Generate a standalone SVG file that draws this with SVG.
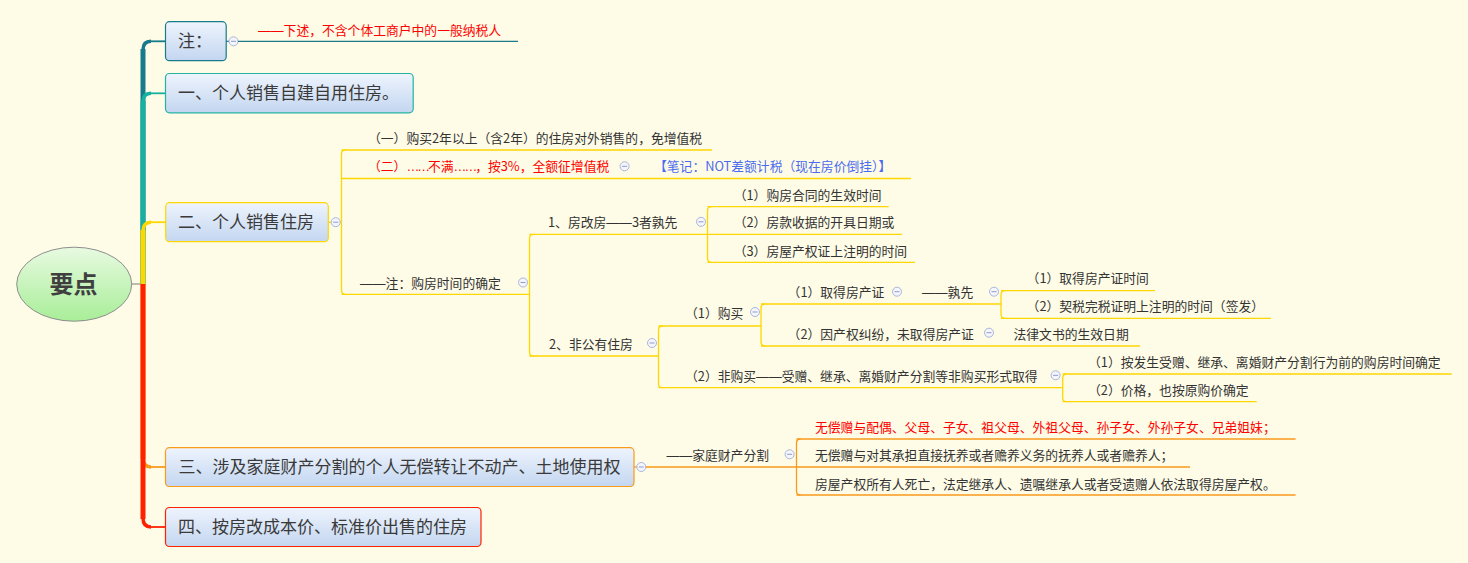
<svg xmlns="http://www.w3.org/2000/svg" width="1468" height="563" viewBox="0 0 1468 563">
<defs>
<linearGradient id="gb" x1="0" y1="0" x2="0" y2="1"><stop offset="0" stop-color="#EEF4FD"/><stop offset="1" stop-color="#C3D6F0"/></linearGradient>
<linearGradient id="gg" x1="0" y1="0" x2="0" y2="1"><stop offset="0" stop-color="#E8FAE1"/><stop offset="1" stop-color="#A8EE98"/></linearGradient>
<g id="col"><circle r="4.5" fill="#F4F6FC" stroke="#AAB5DA" stroke-width="1"/><line x1="-2.5" y1="0" x2="2.5" y2="0" stroke="#8F9BCB" stroke-width="1"/></g>
<style>
text{font-family:"Noto Sans CJK SC","Noto Sans",sans-serif;fill:#333333}
.t13{font-size:12.8px}
.t17{font-size:17px;fill:#3A3A3A}
.red{fill:#FF0000}
.blue{fill:#4B6BF0}
.d{font-family:"Liberation Sans",sans-serif}
.el{font-family:"Liberation Sans",sans-serif;letter-spacing:-2px}
.box{fill:url(#gb);stroke-width:1.2}
.yl{stroke:#FFD700;stroke-width:1.3;fill:none}
.or{stroke:#F99A1C;stroke-width:1.3;fill:none}
.dt{stroke:#1B7B8B;stroke-width:1.2;fill:none}
.trunk{fill:none;stroke-width:5}
.crv{fill:none;stroke-width:3.5}
.stub{fill:none;stroke-width:1.8}
</style>
</defs>
<rect width="1468" height="563" fill="#FEFCE7"/>

<g id="connectors">
  <line x1="131.5" y1="284" x2="143" y2="284" stroke="#909090" stroke-width="1.2"/>
  <g stroke="#177B8B"><path class="trunk" d="M143 284 V49"/><path class="crv" d="M143 50 Q143 41.3 151 41.3"/><path class="stub" d="M150 41.3 H165.5"/></g>
  <g stroke="#16B1A0"><path class="trunk" d="M143 284 V101"/><path class="crv" d="M143 102 Q143 93.3 151 93.3"/><path class="stub" d="M150 93.3 H165.5"/></g>
  <g stroke="#FFD700"><path class="trunk" d="M143 284 V230"/><path class="crv" d="M143 231 Q143 222.2 151 222.2"/><path class="stub" d="M150 222.2 H166"/></g>
  <g stroke="#F99A1C"><path class="trunk" d="M143 284 V459"/><path class="crv" d="M143 458 Q143 467 151 467"/><path class="stub" d="M150 467 H166"/></g>
  <g stroke="#FF2200"><path class="trunk" d="M143 284 V519"/><path class="crv" d="M143 518 Q143 527 151 527"/><path class="stub" d="M150 527 H166"/></g>

  <line class="dt" x1="226" y1="41.3" x2="238" y2="41.3"/>
  <line class="yl" x1="328.5" y1="222.2" x2="341.5" y2="222.2"/>
  <path class="yl" d="M345.5 150 Q341.5 150 341.5 154 V290.3 Q341.5 294.3 345.5 294.3"/>
  <path class="yl" d="M533.5 234.3 Q529.5 234.3 529.5 238.3 V352 Q529.5 356 533.5 356"/>
  <path class="yl" d="M711.5 206.7 Q707.5 206.7 707.5 210.7 V258.3 Q707.5 262.3 711.5 262.3"/>
  <path class="yl" d="M662.5 326 Q658.5 326 658.5 330 V383.7 Q658.5 387.7 662.5 387.7"/>
  <path class="yl" d="M765 304 Q761 304 761 308 V342 Q761 346 765 346"/>
  <path class="yl" d="M1005 290.7 Q1001 290.7 1001 294.7 V314.3 Q1001 318.3 1005 318.3"/>
  <path class="yl" d="M1066.7 374 Q1062.7 374 1062.7 378 V397.7 Q1062.7 401.7 1066.7 401.7"/>
  <line class="or" x1="634" y1="467" x2="646" y2="467"/>
  <path class="or" d="M800.5 439 Q796.5 439 796.5 443 V491 Q796.5 495 800.5 495"/>
</g>

<g id="root">
  <ellipse cx="74.2" cy="284.2" rx="57.5" ry="37" fill="url(#gg)" stroke="#8E8E8E" stroke-width="1"/>
  <text x="73.5" y="293" text-anchor="middle" style="font-size:24px;font-weight:bold;fill:#3F3F3F">要点</text>
</g>

<g id="n-note">
  <rect class="box" x="165.5" y="21.7" width="60.7" height="39" rx="4" stroke="#177B8B"/>
  <text class="t17" x="178" y="47.3">注：</text>
  <use href="#col" x="233.5" y="41.3"/>
</g>
<g id="n-note-1">
  <line class="dt" x1="238" y1="41.3" x2="518" y2="41.3"/>
  <text class="t13 red" x="258" y="35.2"><tspan class="d">——</tspan>下述，不含个体工商户中的一般纳税人</text>
</g>

<g id="n1">
  <rect class="box" x="165.5" y="73.5" width="247.7" height="39.3" rx="4" stroke="#22B3A4"/>
  <text class="t17" x="178" y="99.3">一、个人销售自建自用住房。</text>
</g>

<g id="n2">
  <rect class="box" x="165.7" y="202.7" width="162.6" height="39" rx="4" stroke="#FFD700"/>
  <text class="t17" x="178" y="228.2">二、个人销售住房</text>
  <use href="#col" x="335.7" y="222.2"/>
</g>
<g id="n2-1">
  <line class="yl" x1="341.5" y1="150" x2="712" y2="150"/>
  <text class="t13" x="368" y="142.5">（一）购买2年以上（含2年）的住房对外销售的，免增值税</text>
</g>
<g id="n2-2">
  <line class="yl" x1="341.5" y1="178.5" x2="911" y2="178.5"/>
  <text class="t13 red" x="368" y="171">（二）<tspan class="el">……</tspan>不满<tspan class="el">……</tspan>，按3%，全额征增值税</text>
  <use href="#col" x="624.6" y="166.3"/>
</g>
<g id="n2-2-1">
  <text class="t13 blue" x="654" y="171">【笔记：NOT差额计税（现在房价倒挂）】</text>
</g>
<g id="n2-3">
  <line class="yl" x1="341.5" y1="294.3" x2="529.5" y2="294.3"/>
  <text class="t13" x="360" y="287.5"><tspan class="d">——</tspan>注：购房时间的确定</text>
  <use href="#col" x="523" y="282.5"/>
</g>
<g id="n2-3-1">
  <line class="yl" x1="529.5" y1="234.3" x2="707.5" y2="234.3"/>
  <text class="t13" x="548" y="227">1、房改房<tspan class="d">——</tspan>3者孰先</text>
  <use href="#col" x="701" y="221.8"/>
</g>
<g id="n2-3-1-1">
  <line class="yl" x1="707.5" y1="206.7" x2="888.7" y2="206.7"/>
  <text class="t13" x="733.7" y="199.5">（1）购房合同的生效时间</text>
</g>
<g id="n2-3-1-2">
  <line class="yl" x1="707.5" y1="234.3" x2="902" y2="234.3"/>
  <text class="t13" x="733.7" y="227">（2）房款收据的开具日期或</text>
</g>
<g id="n2-3-1-3">
  <line class="yl" x1="707.5" y1="262.3" x2="915" y2="262.3"/>
  <text class="t13" x="733.7" y="255.5">（3）房屋产权证上注明的时间</text>
</g>
<g id="n2-3-2">
  <line class="yl" x1="529.5" y1="356" x2="658.5" y2="356"/>
  <text class="t13" x="549" y="349">2、非公有住房</text>
  <use href="#col" x="652" y="343"/>
</g>
<g id="n2-3-2-1">
  <line class="yl" x1="658.5" y1="326" x2="761" y2="326"/>
  <text class="t13" x="685" y="317.5">（1）购买</text>
  <use href="#col" x="755" y="312"/>
</g>
<g id="n2-3-2-1-1">
  <line class="yl" x1="761" y1="304" x2="1001" y2="304"/>
  <text class="t13" x="787.6" y="297">（1）取得房产证</text>
  <use href="#col" x="897" y="291.7"/>
</g>
<g id="n2-3-2-1-1-1">
  <text class="t13" x="922" y="297"><tspan class="d">——</tspan>孰先</text>
  <use href="#col" x="994" y="291.7"/>
</g>
<g id="n2-3-2-1-1-1-1">
  <line class="yl" x1="1001" y1="290.7" x2="1155" y2="290.7"/>
  <text class="t13" x="1026.6" y="283">（1）取得房产证时间</text>
</g>
<g id="n2-3-2-1-1-1-2">
  <line class="yl" x1="1001" y1="318.3" x2="1271" y2="318.3"/>
  <text class="t13" x="1026.6" y="311">（2）契税完税证明上注明的时间（签发）</text>
</g>
<g id="n2-3-2-1-2">
  <line class="yl" x1="761" y1="346" x2="1140" y2="346"/>
  <text class="t13" x="787.6" y="338.5">（2）因产权纠纷，未取得房产证</text>
  <use href="#col" x="989" y="332.7"/>
</g>
<g id="n2-3-2-1-2-1">
  <text class="t13" x="1013.5" y="338.5">法律文书的生效日期</text>
</g>
<g id="n2-3-2-2">
  <line class="yl" x1="658.5" y1="387.7" x2="1062.7" y2="387.7"/>
  <text class="t13" x="685" y="381">（2）非购买<tspan class="d">——</tspan>受赠、继承、离婚财产分割等非购买形式取得</text>
  <use href="#col" x="1055.6" y="375.3"/>
</g>
<g id="n2-3-2-2-1">
  <line class="yl" x1="1062.7" y1="374" x2="1451.7" y2="374"/>
  <text class="t13" x="1088" y="367">（1）按发生受赠、继承、离婚财产分割行为前的购房时间确定</text>
</g>
<g id="n2-3-2-2-2">
  <line class="yl" x1="1062.7" y1="401.7" x2="1256.7" y2="401.7"/>
  <text class="t13" x="1088" y="395">（2）价格，也按原购价确定</text>
</g>

<g id="n3">
  <rect class="box" x="165.5" y="447.7" width="468.5" height="38.8" rx="4" stroke="#F99A1C"/>
  <text class="t17" x="178.5" y="473">三、涉及家庭财产分割的个人无偿转让不动产、土地使用权</text>
  <use href="#col" x="641.3" y="467"/>
</g>
<g id="n3-1">
  <line class="or" x1="646" y1="467" x2="796.5" y2="467"/>
  <text class="t13" x="666.6" y="460"><tspan class="d">——</tspan>家庭财产分割</text>
  <use href="#col" x="789.6" y="454.3"/>
</g>
<g id="n3-1-1">
  <line class="or" x1="796.5" y1="439" x2="1295.6" y2="439"/>
  <text class="t13 red" x="815" y="432">无偿赠与配偶、父母、子女、祖父母、外祖父母、孙子女、外孙子女、兄弟姐妹；</text>
</g>
<g id="n3-1-2">
  <line class="or" x1="796.5" y1="467" x2="1190" y2="467"/>
  <text class="t13" x="815" y="460">无偿赠与对其承担直接抚养或者赡养义务的抚养人或者赡养人；</text>
</g>
<g id="n3-1-3">
  <line class="or" x1="796.5" y1="495" x2="1295.6" y2="495"/>
  <text class="t13" x="815" y="489">房屋产权所有人死亡，法定继承人、遗嘱继承人或者受遗赠人依法取得房屋产权。</text>
</g>

<g id="n4">
  <rect class="box" x="165.5" y="507.5" width="315.5" height="39" rx="4" stroke="#FF2200"/>
  <text class="t17" x="178" y="533">四、按房改成本价、标准价出售的住房</text>
</g>
</svg>
